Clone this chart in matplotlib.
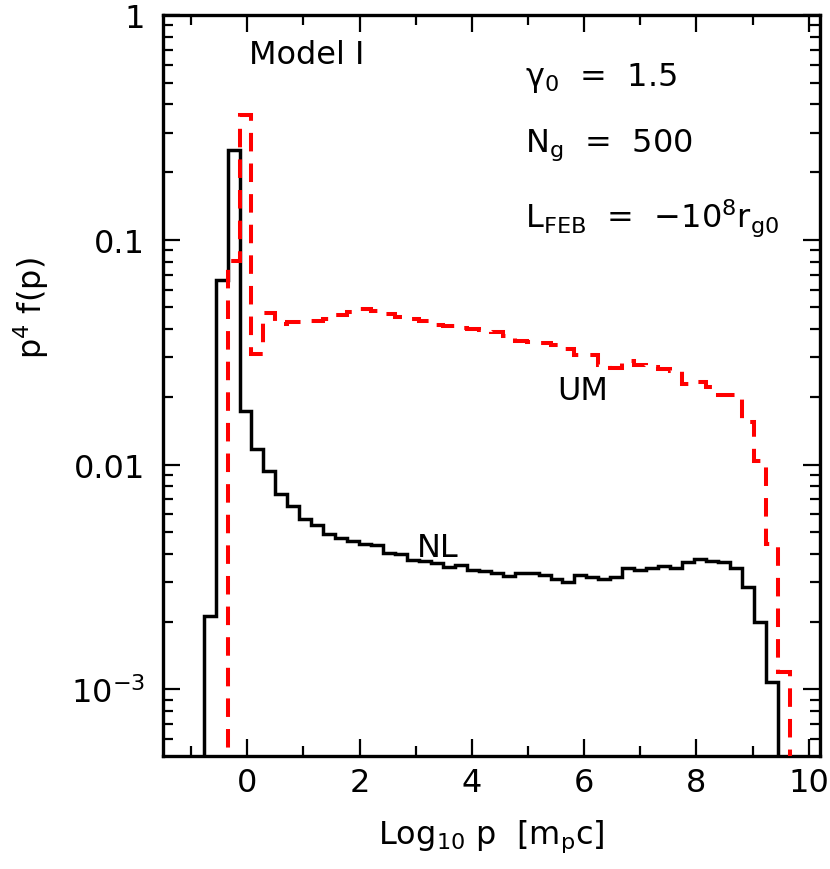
import numpy as np
import matplotlib
matplotlib.use("Agg")
import matplotlib.pyplot as plt
from matplotlib.ticker import FixedLocator, FixedFormatter, LogLocator, NullFormatter

# ---- data ----
bin_start = -0.776
bin_width = 0.2130

nl_values = [0.00211, 0.0664, 0.251, 0.01725, 0.01169, 0.00938, 0.00743, 0.00653,
             0.00575, 0.00537, 0.00493, 0.00472, 0.00456, 0.00442, 0.00438, 0.00406,
             0.00398, 0.00378, 0.00372, 0.00363, 0.00350, 0.00357, 0.00341, 0.00337,
             0.00328, 0.00319, 0.00328, 0.00328, 0.00324, 0.00311, 0.00301, 0.00322,
             0.00317, 0.00311, 0.00317, 0.00345, 0.00341, 0.00345, 0.00355, 0.00347,
             0.00369, 0.00379, 0.00372, 0.00367, 0.00345, 0.00286, 0.00200, 0.00108]
nl_first_bin = 0

um_values = [0.0807, 0.359, 0.0311, 0.0472, 0.0423, 0.0432, 0.0432, 0.0433,
             0.0446, 0.0464, 0.0479, 0.0490, 0.0484, 0.0469, 0.0455, 0.0442,
             0.0437, 0.0416, 0.0415, 0.0406, 0.0399, 0.0398, 0.0390, 0.0374,
             0.0353, 0.0352, 0.0348, 0.0339, 0.0325, 0.0308, 0.0308, 0.0278,
             0.0269, 0.0290, 0.0278, 0.0273, 0.0267, 0.0262, 0.0229, 0.0234,
             0.0222, 0.0203, 0.0203, 0.0155, 0.01034, 0.00445, 0.00120]
um_first_bin = 2

ytick_vals = [1e-3, 1e-2, 0.1, 1]
ytick_labels = [r'$10^{-3}$', '0.01', '0.1', '1']
xtick_vals = [0, 2, 4, 6, 8, 10]

# ---- figure ----
plt.rcParams['font.family'] = ['DejaVu Sans']
plt.rcParams['mathtext.default'] = 'regular'
plt.rcParams['mathtext.fontset'] = 'dejavusans'
FS = 23

fig = plt.figure(figsize=(8.3, 8.7), dpi=100)
ax = fig.add_axes([163/830, 1-757/870, (820-163)/830, (757-16)/870])

n_nl = len(nl_values)
nl_edges = bin_start + bin_width*np.arange(nl_first_bin, nl_first_bin+n_nl+1)
n_um = len(um_values)
um_edges = bin_start + bin_width*np.arange(um_first_bin, um_first_bin+n_um+1)

ax.stairs(nl_values, nl_edges, baseline=1e-6, color='black', lw=2.5, zorder=2)
ax.stairs(um_values, um_edges, baseline=1e-6, color='red', lw=2.9,
          linestyle=(0, (4.6, 3.0)), zorder=3)

ax.set_yscale('log')
ax.set_xlim(-1.5, 10.2)
ax.set_ylim(5.05e-4, 1)

ax.yaxis.set_major_locator(FixedLocator(ytick_vals))
ax.yaxis.set_major_formatter(FixedFormatter(ytick_labels))
ax.yaxis.set_minor_locator(LogLocator(base=10, subs=np.arange(2, 10)))
ax.yaxis.set_minor_formatter(NullFormatter())
ax.xaxis.set_major_locator(FixedLocator(xtick_vals))
ax.xaxis.set_minor_locator(FixedLocator([-1, 1, 3, 5, 7, 9]))

ax.tick_params(which='both', direction='in', top=True, right=True, width=1.6)
ax.tick_params(which='major', length=12)
ax.tick_params(which='minor', length=7)
ax.tick_params(axis='x', which='major', labelsize=FS, pad=8)
ax.tick_params(axis='y', which='major', labelsize=FS, pad=13)
for s in ax.spines.values():
    s.set_linewidth(2.4)

ax.set_xlabel(r'Log$_{10}$ p  [m$_p$c]', fontsize=FS, labelpad=14)
ax.set_ylabel(r'p$^4$ f(p)', fontsize=FS)
ax.yaxis.set_label_coords(-0.17, 0.606)

ax.text(0.131, 0.968, 'Model I', transform=ax.transAxes, fontsize=FS, va='top', ha='left')
ax.text(525, 86, r'$\gamma_0$  =  1.5', transform=None, fontsize=FS, va='baseline', ha='left')
ax.text(525, 152, r'$N_g$  =  500', transform=None, fontsize=FS, va='baseline', ha='left')
ax.text(525, 228, r'$L_{FEB}$  =  $-10^8 r_{g0}$', transform=None, fontsize=FS, va='baseline', ha='left')
ax.text(557, 400, 'UM', transform=None, fontsize=FS, va='baseline', ha='left')
ax.text(417, 557, 'NL', transform=None, fontsize=FS, va='baseline', ha='left')

# transform=None texts use display coords with origin at bottom-left; convert
for t in ax.texts[1:]:
    x, y = t.get_position()
    t.set_position((x, 870 - y))

fig.savefig('out.png', dpi=100)
